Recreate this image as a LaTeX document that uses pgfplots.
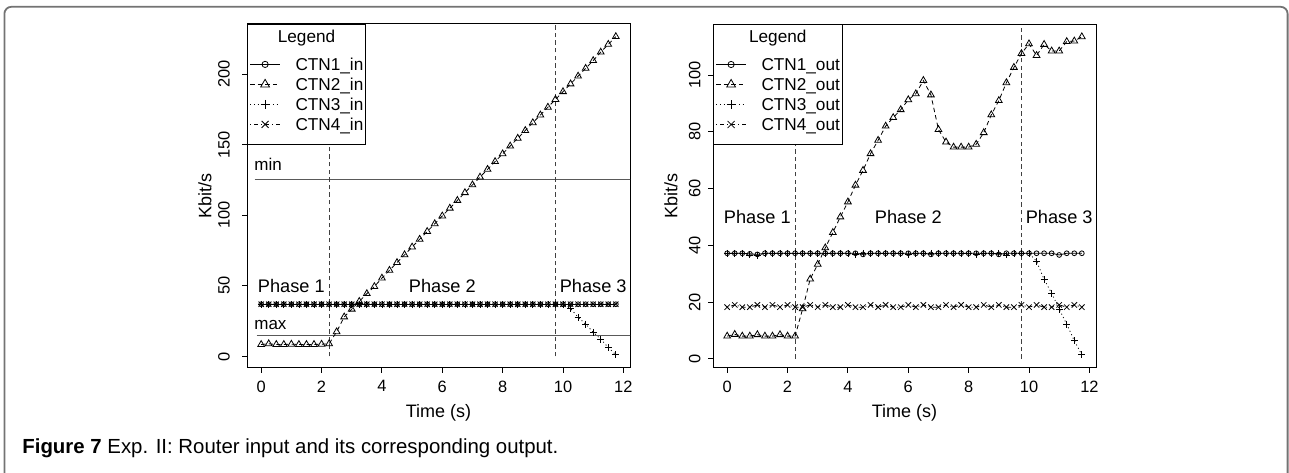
\documentclass[border=0pt]{standalone}
\usepackage{fontspec}
\setmainfont{Liberation Sans}
\usepackage{pgfplots}
\usepackage{pgfplotstable}
\pgfplotsset{compat=1.18}

% router input, Kbit/s per container
\pgfplotstableread{
t     c1   c2    c3   c4
0.00  37   8.5   37   37
0.25  37   9.0   37   37
0.50  37   8.5   37   37
0.75  37   8.5   37   37
1.00  37   8.7   37   37
1.25  37   8.5   37   37
1.50  37   8.5   37   37
1.75  37   8.5   37   37
2.00  37   8.7   37   37
2.25  37   9.0   37   37
2.50  37   17.5  37   37
2.75  37   28.0  37   37
3.00  37   33.5  37   37
3.25  37   39.0  37   37
3.50  37   44.5  37   37
3.75  37   49.5  37   37
4.00  37   55.5  37   37
4.25  37   61.0  37   37
4.50  37   66.5  37   37
4.75  37   72.0  37   37
5.00  37   77.5  37   37
5.25  37   83.0  37   37
5.50  37   88.5  37   37
5.75  37   94.0  37   37
6.00  37   99.5  37   37
6.25  37   105.0 37   37
6.50  37   110.5 37   37
6.75  37   116.0 37   37
7.00  37   121.5 37   37
7.25  37   127.0 37   37
7.50  37   132.5 37   37
7.75  37   138.0 37   37
8.00  37   143.5 37   37
8.25  37   149.0 37   37
8.50  37   154.5 37   37
8.75  37   160.0 37   37
9.00  37   165.5 37   37
9.25  37   171.0 37   37
9.50  37   176.5 37   37
9.75  37   182.0 37   37
10.00 37   187.5 37   37
10.25 37   193.0 34.0 37
10.50 37   198.5 27.8 37
10.75 37   204.0 22.9 37
11.00 37   209.5 17.2 37
11.25 37   215.5 12.3 37
11.50 37   221.0 6.4  37
11.75 37   226.5 1.2  37
}\inputdata

% router output
\pgfplotstableread{
t     c1    c2    c3    c4
0.00  37.2  8.0   37.2  18.2
0.25  37.2  8.6   37.2  19.0
0.50  37.2  8.0   37.2  18.2
0.75  37.0  8.0   36.6  18.2
1.00  36.8  8.5   36.5  19.0
1.25  37.2  8.0   37.2  18.2
1.50  37.2  8.0   37.2  19.0
1.75  37.2  8.5   37.2  18.2
2.00  37.2  8.0   37.2  19.0
2.25  37.2  8.0   37.0  18.2
2.50  37.2  17.6  37.2  18.2
2.75  37.2  28.1  37.2  19.0
3.00  37.2  33.3  37.0  18.2
3.25  37.2  39.1  37.2  19.0
3.50  37.2  44.5  37.2  18.2
3.75  37.2  50.0  37.2  18.2
4.00  37.2  55.3  37.2  19.0
4.25  37.2  61.2  36.8  18.2
4.50  36.8  66.4  37.2  18.2
4.75  37.2  72.3  37.2  19.0
5.00  37.2  77.0  37.2  18.2
5.25  37.2  82.0  37.2  19.0
5.50  37.2  85.0  37.2  18.2
5.75  37.2  87.8  37.2  18.2
6.00  37.2  91.3  36.8  19.0
6.25  37.2  93.4  37.2  18.2
6.50  37.2  98.1  37.2  19.0
6.75  36.8  93.0  37.2  18.2
7.00  37.2  80.8  37.2  18.2
7.25  37.2  76.4  37.2  19.0
7.50  37.2  74.6  37.2  18.2
7.75  37.2  74.6  37.2  19.0
8.00  37.2  74.6  37.2  18.2
8.25  37.2  75.6  36.8  18.2
8.50  37.2  79.7  37.2  19.0
8.75  37.2  86.0  37.2  18.2
9.00  36.8  91.0  37.2  19.0
9.25  37.2  97.3  36.6  18.2
9.50  37.2  102.7 37.2  18.2
9.75  37.2  107.6 37.2  19.0
10.00 37.2  111.0 37.2  18.2
10.25 37.2  106.9 34.4  19.0
10.50 37.2  110.8 28.0  18.2
10.75 37.2  108.5 23.1  18.2
11.00 36.6  108.5 17.5  19.0
11.25 37.2  111.8 12.2  18.2
11.50 37.2  112.0 6.4   19.0
11.75 37.2  113.5 1.4   18.2
}\outputdata

\newcommand{\fs}{\fontsize{8.2}{9}\selectfont}
\newcommand{\fl}{\fontsize{9}{10}\selectfont}
\newcommand{\fp}{\fontsize{9.1}{10}\selectfont}
\newcommand{\fg}{\fontsize{8.6}{9.5}\selectfont}

\pgfplotsset{
  routerplot/.style={
    scale only axis, width=191.5pt, height=171.8pt,
    axis line style={line width=0.5pt},
    tick align=outside, xtick pos=left, ytick pos=left,
    major tick length=2.5pt,
    every tick/.style={black, line width=0.5pt},
    xmin=-0.47, xmax=12.22,
    xtick={0,2,...,12},
    /pgf/number format/assume math mode=true,
    tick label style={font=\fs},
    xticklabel style={anchor=north, inner sep=0pt},
    xticklabel shift=3.9pt,
    yticklabel style={rotate=90, anchor=south, inner sep=0pt},
    label style={font=\fl},
    xlabel={Time (s)}, ylabel={Kbit/s},
    xlabel style={at={(axis description cs:0.5,-0.132)}, anchor=center},
    ylabel style={at={(axis description cs:-0.11,0.5)}, anchor=center},
    legend cell align=left,
    legend style={at={(0,1)}, anchor=north west, draw=black, line width=0.5pt,
      fill=white, font=\fg, inner xsep=1.1pt, inner ysep=5pt,
      row sep=0pt, column sep=7.5pt,
      nodes={inner xsep=0pt, inner ysep=0pt, text height=8pt, text depth=2pt}},
    legend image code/.code={\draw[mark repeat=2,mark phase=2,#1]
      plot coordinates {(0pt,0pt) (7.5pt,0pt) (15pt,0pt)};},
    legend image post style={/tikz/every mark/.append style={scale=1.3}},
  },
  ctn1/.style={black, line width=0.4pt, solid, mark=o, mark size=1.2pt},
  ctn2/.style={black, line width=0.4pt, dash pattern=on 2.2pt off 1.6pt,
    mark=triangle, mark size=1.95pt, mark options={solid}},
  ctn3/.style={black, line width=0.4pt, dash pattern=on 0.5pt off 1.4pt,
    mark=+, mark size=1.7pt, mark options={solid}},
  ctn4/.style={black, line width=0.4pt,
    dash pattern=on 0.5pt off 1.5pt on 2pt off 1.5pt,
    mark=x, mark size=1.9pt, mark options={solid}},
  phaseline/.style={black!75, line width=0.5pt, dash pattern=on 2.2pt off 1.6pt, forget plot},
}

\begin{document}
\begin{tikzpicture}
\path[use as bounding box] (0,0) rectangle (644.5pt,236pt);
\draw[black!55, line width=0.9pt, rounded corners=3.5pt]
  (2.2pt,-5pt) -- (2.2pt,232.6pt) -- (643.8pt,232.6pt) -- (643.8pt,-5pt);
\node[anchor=base west, inner sep=0pt, font=\fontsize{10.2}{12}\selectfont]
  at (11pt,9.5pt) {\textbf{Figure 7} Exp. II: Router input and its corresponding output.};

% input
\begin{axis}[routerplot, at={(123.5pt,52.25pt)}, anchor=south west,
  ymin=-7.8, ymax=235.5, ytick={0,50,...,200}, yticklabel shift=5.9pt,
  legend style={name=legL}]
\addplot[black!65, line width=0.5pt, forget plot] coordinates {(-0.22,125) (13,125)};
\addplot[black!65, line width=0.5pt, forget plot] coordinates {(-0.15,15) (13,15)};
\addplot[phaseline] coordinates {(2.25,0) (2.25,300)};
\addplot[phaseline] coordinates {(9.75,0) (9.75,300)};
\addlegendimage{empty legend}\addlegendentry{}
\addplot[ctn1] table[x=t, y=c1] {\inputdata};
\addlegendentry{CTN1\_in\hspace{2.4pt}}
\addplot[ctn2] table[x=t, y=c2] {\inputdata};
\addlegendentry{CTN2\_in}
\addplot[ctn3] table[x=t, y=c3] {\inputdata};
\addlegendentry{CTN3\_in}
\addplot[ctn4] table[x=t, y=c4] {\inputdata};
\addlegendentry{CTN4\_in}
\node[anchor=base west, inner sep=0pt, font=\fontsize{8.5}{9}\selectfont] at (axis cs:-0.24,131.8) {min};
\node[anchor=base west, inner sep=0pt, font=\fontsize{8.5}{9}\selectfont] at (axis cs:-0.24,19.3) {max};
\node[inner sep=0pt, font=\fp] at (axis cs:1,50) {Phase 1};
\node[inner sep=0pt, font=\fp] at (axis cs:6,50) {Phase 2};
\node[inner sep=0pt, font=\fp] at (axis cs:11,50) {Phase 3};
\end{axis}
\node[anchor=base, inner sep=0pt, font=\fg] at ([yshift=-9.35pt]legL.north) {Legend};

% output
\begin{axis}[routerplot, at={(356.5pt,52.2pt)}, anchor=south west,
  ymin=-3.1, ymax=118, ytick={0,20,...,100}, yticklabel shift=3.6pt,
  legend style={name=legR}]
\addplot[phaseline] coordinates {(2.25,0) (2.25,300)};
\addplot[phaseline] coordinates {(9.75,0) (9.75,300)};
\addlegendimage{empty legend}\addlegendentry{}
\addplot[ctn1] table[x=t, y=c1] {\outputdata};
\addlegendentry{CTN1\_out\hspace{2.4pt}}
\addplot[ctn2] table[x=t, y=c2] {\outputdata};
\addlegendentry{CTN2\_out}
\addplot[ctn3] table[x=t, y=c3] {\outputdata};
\addlegendentry{CTN3\_out}
\addplot[ctn4] table[x=t, y=c4] {\outputdata};
\addlegendentry{CTN4\_out}
\node[inner sep=0pt, font=\fp] at (axis cs:1,50) {Phase 1};
\node[inner sep=0pt, font=\fp] at (axis cs:6,50) {Phase 2};
\node[inner sep=0pt, font=\fp] at (axis cs:11,50) {Phase 3};
\end{axis}
\node[anchor=base, inner sep=0pt, font=\fg] at ([yshift=-9.35pt]legR.north) {Legend};
\end{tikzpicture}
\end{document}
